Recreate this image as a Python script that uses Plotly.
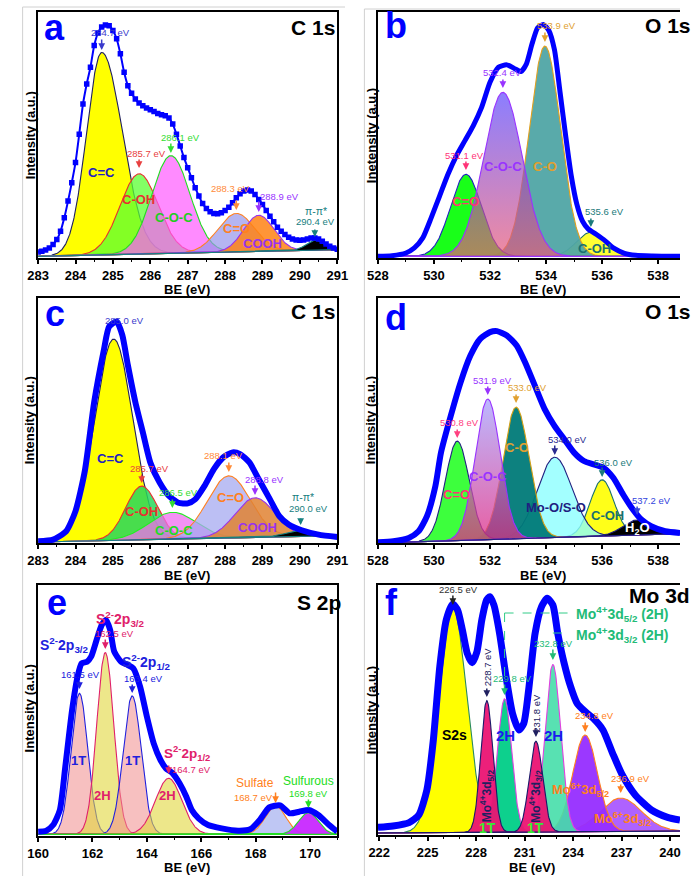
import numpy as np
import plotly.graph_objects as go

W, H = 691, 876
FONT = "Liberation Sans, Arial, sans-serif"
BLUE = "#0000ff"

# ======================= DATA =======================
# (a) C 1s  -- fitted components: centre (eV), height, left/right FWHM (eV)
a_names = ["C=C", "C-OH", "C-O-C", "C=O", "COOH", "pi-pi*"]
a_center = [284.7, 285.7, 286.55, 288.3, 288.9, 290.4]
a_height = [605, 240, 292, 115, 108, 30]
a_fwhm_l = [0.95, 1.2, 1.2, 1.15, 0.95, 0.55]
a_fwhm_r = [1.3, 1.2, 1.2, 1.15, 0.95, 0.55]
a_bg = [5, 25]
a_env_x = [283.0, 283.1, 283.2, 283.3, 283.4, 283.5, 283.6, 283.7, 283.8, 283.9,
           284.0, 284.1, 284.2, 284.3, 284.4, 284.5, 284.6, 284.7, 284.8, 284.9,
           285.0, 285.1, 285.2, 285.3, 285.4, 285.5, 285.6, 285.7, 285.8, 285.9,
           286.0, 286.1, 286.2, 286.3, 286.4, 286.5, 286.6, 286.7, 286.8, 286.9,
           287.0, 287.1, 287.2, 287.3, 287.4, 287.5, 287.6, 287.7, 287.8, 287.9,
           288.0, 288.1, 288.2, 288.3, 288.4, 288.5, 288.6, 288.7, 288.8, 288.9,
           289.0, 289.1, 289.2, 289.3, 289.4, 289.5, 289.6, 289.7, 289.8, 289.9,
           290.0, 290.1, 290.2, 290.3, 290.4, 290.5, 290.6, 290.7, 290.8, 290.9, 291.0]
a_env_y = [18, 20, 24, 30, 40, 55, 80, 120, 170, 225,
           285, 370, 460, 520, 570, 635, 672, 690, 696, 694,
           680, 655, 610, 555, 515, 492, 475, 463, 455, 448,
           443, 438, 432, 428, 425, 418, 400, 370, 335, 300,
           270, 240, 210, 185, 163, 148, 138, 133, 132, 135,
           142, 152, 165, 180, 192, 200, 203, 200, 190, 175,
           160, 142, 125, 108, 92, 80, 70, 62, 57, 54,
           53, 54, 57, 60, 60, 57, 50, 42, 35, 30, 26]

# (b) O 1s
b_names = ["C=O", "C-O-C", "C-O", "C-OH"]
b_center = [531.14, 532.46, 533.96, 535.6]
b_height = [245, 490, 628, 72]
b_fwhm = [1.3, 1.62, 1.32, 1.2]
b_bg = [5, 5]
b_env_x = [528.0, 528.5, 529.0, 529.3, 529.6, 529.9, 530.2, 530.5, 530.8, 531.1,
           531.4, 531.7, 532.0, 532.3, 532.6, 532.9, 533.1, 533.3, 533.5, 533.7,
           533.9, 534.1, 534.3, 534.5, 534.7, 534.9, 535.1, 535.3, 535.5, 535.8,
           536.1, 536.4, 536.8, 537.2, 537.8, 538.78]
b_env_y = [5, 7, 15, 30, 60, 120, 185, 250, 305, 350,
           395, 450, 525, 570, 577, 565, 557, 580, 640, 688,
           698, 680, 622, 495, 365, 245, 160, 110, 87, 70,
           52, 30, 14, 8, 6, 5]

# (c) C 1s
c_names = ["C=C", "C-OH", "C-O-C", "C=O", "COOH", "pi-pi*"]
c_center = [285.02, 285.77, 286.59, 288.1, 288.8, 290.02]
c_height = [600, 160, 80, 185, 118, 18]
c_fwhm = [1.2, 1.0, 1.5, 1.35, 1.25, 0.9]
c_bg = [3, 22]
c_env_x = [283.0, 283.4, 283.75, 284.0, 284.25, 284.5, 284.75, 284.9, 285.1, 285.25,
           285.4, 285.6, 285.8, 286.0, 286.25, 286.5, 286.75, 287.0, 287.2, 287.45,
           287.7, 287.95, 288.2, 288.4, 288.65, 288.9, 289.2, 289.45, 289.7, 290.05,
           290.5, 291.0]
c_env_y = [5, 10, 35, 95, 215, 420, 570, 645, 660, 620,
           530, 420, 330, 240, 180, 140, 120, 118, 130, 170,
           220, 255, 270, 265, 240, 190, 130, 80, 55, 38,
           25, 18]

# (d) O 1s
d_names = ["C=O", "C-O-C", "C-O", "Mo-O/S-O", "C-OH", "H2O"]
d_center = [530.83, 531.92, 532.93, 534.31, 536.0, 537.25]
d_height = [297, 420, 393, 240, 168, 45]
d_fwhm = [1.0, 1.05, 1.1, 1.45, 1.0, 1.2]
d_bg = [0, 28]
d_env_x = [528.0, 528.55, 529.1, 529.45, 529.75, 530.05, 530.25, 530.6, 530.95, 531.3,
           531.65, 532.0, 532.25, 532.6, 532.95, 533.25, 533.6, 533.95, 534.3, 534.65,
           535.0, 535.35, 535.7, 536.05, 536.4, 536.75, 537.1, 537.4, 537.75, 538.25, 538.78]
d_env_y = [2, 5, 15, 35, 80, 170, 270, 380, 480, 560,
           610, 630, 633, 620, 590, 540, 470, 400, 350, 310,
           270, 245, 235, 225, 195, 145, 100, 70, 50, 35, 30]

# (e) S 2p
e_names = ["1T 2p3/2", "2H 2p3/2", "1T 2p1/2", "2H 2p1/2", "Sulfate", "Sulfurous"]
e_center = [161.52, 162.47, 163.46, 164.8, 168.73, 169.94]
e_height = [423, 545, 415, 168, 85, 65]
e_fwhm = [0.72, 0.74, 0.78, 1.14, 0.9, 0.85]
e_bg = [5, 5]
e_env_x = [160.0, 160.3, 160.55, 160.8, 161.0, 161.25, 161.45, 161.6, 161.8, 161.95,
           162.15, 162.35, 162.5, 162.65, 162.8, 163.05, 163.3, 163.5, 163.75, 164.0,
           164.25, 164.5, 164.7, 164.95, 165.2, 165.45, 165.65, 165.9, 166.25, 166.75,
           167.35, 167.8, 168.15, 168.5, 168.9, 169.25, 169.6, 169.95, 170.3, 170.7, 171.0]
e_env_y = [13, 16, 33, 78, 208, 378, 478, 518, 523, 538,
           588, 635, 648, 618, 553, 523, 513, 503, 448, 358,
           278, 228, 203, 188, 158, 118, 78, 53, 33, 23,
           16, 20, 48, 86, 92, 68, 73, 78, 63, 33, 13]

# (f) Mo 3d
f_names = ["S2s", "1T 3d5/2", "2H 3d5/2", "1T 3d3/2", "2H 3d3/2", "Mo6+ 3d5/2", "Mo6+ 3d3/2"]
f_center = [226.56, 228.66, 229.76, 231.7, 232.75, 234.75, 236.95]
f_height = [672, 395, 400, 272, 502, 290, 100]
f_fwhm = [2.05, 0.88, 1.04, 0.98, 1.14, 1.8, 3.0]
f_bg = [6, 12]
f_env_x = [221.92, 222.85, 223.85, 224.45, 224.95, 225.35, 225.75, 226.15, 226.55, 226.85,
           227.15, 227.45, 227.75, 228.05, 228.35, 228.65, 228.85, 229.1, 229.45, 229.85,
           230.25, 230.65, 230.95, 231.25, 231.65, 232.05, 232.4, 232.75, 233.05, 233.45,
           233.85, 234.25, 234.75, 235.25, 235.85, 236.45, 237.05, 237.85, 238.85, 239.85, 240.62]
f_env_y = [23, 27, 37, 60, 135, 285, 505, 645, 693, 675,
           615, 545, 517, 550, 645, 705, 715, 690, 605, 475,
           365, 315, 335, 435, 605, 685, 710, 690, 605, 515,
           445, 395, 370, 350, 315, 245, 180, 120, 75, 53, 45]

# ======================= STYLE / LAYOUT =======================
def px_x(p):
    return p / W


def px_y(p):
    return 1 - p / H


def gauss(x, c, h, wl, wr):
    s = np.where(x < c, wl, wr) / 2.3548
    return h * np.exp(-0.5 * ((x - c) / s) ** 2)


fig = go.Figure()


def add_components(ax, xr, centers, heights, fl, fr, bg, fills, lines, order):
    xs = np.linspace(xr[0], xr[1], 800)
    base = np.interp(xs, xr, bg)
    for i in order:
        g = gauss(xs, centers[i], heights[i], fl[i], fr[i])
        xx = np.concatenate([xs, xs[::-1]])
        yy = np.concatenate([base + g, base[::-1]])
        kw = dict(x=xx, y=yy, mode="lines", fill="toself",
                  line=dict(color=lines[i], width=1.1),
                  xaxis="x" + ax, yaxis="y" + ax, hoverinfo="skip", showlegend=False)
        if isinstance(fills[i], list):
            kw["fillgradient"] = dict(type="vertical", colorscale=fills[i])
        else:
            kw["fillcolor"] = fills[i]
        fig.add_trace(go.Scatter(**kw))


def add_envelope(ax, x, y, width, markers=False):
    fig.add_trace(go.Scatter(
        x=x, y=y, mode="lines+markers" if markers else "lines",
        line=dict(color=BLUE, width=width, shape="spline", smoothing=0.6),
        marker=dict(symbol="square", size=5.5, color=BLUE),
        xaxis="x" + ax, yaxis="y" + ax, hoverinfo="skip", showlegend=False))


# ---- panel a
add_components("", [283, 291], a_center, a_height, a_fwhm_l, a_fwhm_r, a_bg,
               ["rgba(255,255,0,1)", "rgba(90,255,50,0.75)", "rgba(255,90,255,0.7)",
                "rgba(150,150,235,0.7)", "rgba(255,130,20,0.85)", "rgba(0,0,0,1)"],
               ["#202060", "#e83030", "#22dd22", "#ff8020", "#9933ee", "#178080"],
               [0, 1, 2, 3, 4, 5])
add_envelope("", a_env_x, a_env_y, 2, markers=True)

# ---- panel b
b_grad = [[0, "rgba(233,88,119,0.7)"], [1, "rgba(90,70,255,0.7)"]]
add_components("2", [528, 538.78], b_center, b_height, b_fwhm, b_fwhm, b_bg,
               ["rgba(0,255,0,0.9)", b_grad, "rgba(80,165,165,0.95)", "rgba(255,255,40,0.95)"],
               ["#2020c0", "#9933ff", "#e0a020", "#1a6a6a"],
               [3, 2, 0, 1])
add_envelope("2", b_env_x, b_env_y, 5)

# ---- panel c
add_components("3", [283, 291], c_center, c_height, c_fwhm, c_fwhm, c_bg,
               ["rgba(255,255,0,1)", "rgba(40,215,90,0.85)", "rgba(240,110,240,0.75)",
                "rgba(165,170,240,0.75)", "rgba(225,130,50,0.85)", "rgba(0,0,0,1)"],
               ["#202060", "#e83030", "#22ee22", "#ff8020", "#9933ee", "#178080"],
               [0, 1, 2, 3, 4, 5])
add_envelope("3", c_env_x, c_env_y, 6)

# ---- panel d
d_grad = [[0, "rgba(225,40,130,0.75)"], [1, "rgba(165,160,255,0.75)"]]
add_components("4", [528, 538.78], d_center, d_height, d_fwhm, d_fwhm, d_bg,
               ["rgba(40,255,40,0.9)", d_grad, "rgba(0,122,120,0.95)",
                "rgba(140,255,255,0.8)", "rgba(255,255,0,0.9)", "rgba(0,0,0,1)"],
               ["#202080", "#9933ff", "#d4a017", "#202080", "#1a7070", "#202080"],
               [4, 3, 2, 0, 1, 5])
add_envelope("4", d_env_x, d_env_y, 6)

# ---- panel e
add_components("5", [160, 171], e_center, e_height, e_fwhm, e_fwhm, e_bg,
               ["rgba(240,140,140,0.55)", "rgba(225,215,60,0.6)", "rgba(240,140,140,0.55)",
                "rgba(225,215,60,0.6)", "rgba(170,180,240,0.75)", "rgba(200,40,255,0.95)"],
               ["#2020dd", "#e0206a", "#2020dd", "#e0206a", "#ff8020", "#22dd22"],
               [0, 1, 2, 3, 4, 5])
add_envelope("5", e_env_x, e_env_y, 6)

# ---- panel f
add_components("6", [221.92, 240.62], f_center, f_height, f_fwhm, f_fwhm, f_bg,
               ["rgba(255,255,0,1)", "rgba(235,20,115,0.95)", "rgba(0,205,135,0.95)",
                "rgba(235,20,115,0.95)", "rgba(70,222,170,0.9)", "rgba(150,45,255,0.95)",
                "rgba(160,70,255,0.85)"],
               ["#2a8a60", "#1a1a6a", "#e040e0", "#1a1a6a", "#e040e0", "#ff8020", "#ff8020"],
               [0, 6, 5, 4, 2, 1, 3])
add_envelope("6", f_env_x, f_env_y, 7)

# ---- axes
LEFT = [28 / W, 337 / W]
RIGHT = [379 / W, 1.0]
ROWS = [[px_y(258), px_y(12)], [px_y(543), px_y(298)], [px_y(836), px_y(585)]]

panels = [
    ("", LEFT, ROWS[0], [283, 291], [0, 735], 1, 0.5, 283, True),
    ("2", RIGHT, ROWS[0], [528, 538.78], [0, 735], 2, 1, 528, False),
    ("3", LEFT, ROWS[1], [283, 291], [0, 730], 1, 0.5, 283, True),
    ("4", RIGHT, ROWS[1], [528, 538.78], [0, 732], 2, 1, 528, False),
    ("5", LEFT, ROWS[2], [160, 171], [0, 753], 2, 1, 160, True),
    ("6", RIGHT, [px_y(835), px_y(585)], [221.92, 240.62], [0, 750], 3, 1, 222, False),
]
for ax, xd, yd, xr, yr, dt, mdt, t0, mir in panels:
    fig.layout["xaxis" + ax] = dict(
        domain=xd, range=xr, anchor="y" + ax, showline=True, linecolor="black",
        linewidth=1.8, mirror=True, ticks="outside", ticklen=4, tickwidth=1.5,
        tickcolor="black", dtick=dt, tick0=t0,
        minor=dict(dtick=mdt, tick0=t0, ticks="outside", ticklen=2.5, tickwidth=1.2,
                   tickcolor="black"),
        tickfont=dict(family=FONT, size=13, color="black", weight="bold"),
        showgrid=False, zeroline=False, fixedrange=True)
    fig.layout["yaxis" + ax] = dict(
        domain=yd, range=yr, anchor="x" + ax, showline=True, linecolor="black",
        linewidth=1.8, mirror=mir, ticks="", showticklabels=False,
        showgrid=False, zeroline=False, fixedrange=True)

# ---- annotations
ann = []


def lab(text, px, py, color, size=9.5, bold=False, angle=0, xanchor="center"):
    ann.append(dict(text=text, x=px_x(px), y=px_y(py), xref="paper", yref="paper",
                    showarrow=False, xanchor=xanchor, yanchor="middle", textangle=angle,
                    font=dict(family=FONT, size=size, color=color,
                              weight="bold" if bold else "normal")))


def arr(xd, ax, tip, length, color):
    ann.append(dict(text="", x=xd, xref="x" + ax, y=px_y(tip), yref="paper",
                    showarrow=True, ax=0, ay=-length, arrowhead=2, arrowsize=0.9,
                    arrowwidth=1.5, arrowcolor=color))


def common(letter, lx, ly, title, tx, ty, anchor, ytitle, yx, yy, bx, by):
    lab(letter, lx, ly, BLUE, 36, True)
    lab(title, tx, ty, "black", 21, True, xanchor=anchor)
    lab(ytitle, yx, yy, "black", 13, True, angle=-90)
    lab("BE (eV)", bx, by, "black", 13, True)


# panel a
common("a", 45, 27, "C 1s", 312, 27, "center", "Intensity (a.u.)", 20, 135, 182, 289)
lab("284.7 eV", 103, 32, "#3a3acc")
lab("285.7 eV", 140, 154, "#e84040")
lab("286.1 eV", 175, 137, "#33dd33")
lab("288.3 eV", 227, 188, "#ff8c3a")
lab("288.9 eV", 277, 197, "#9933ff")
lab("π-π*", 315, 211, "#178080", 10.5)
lab("290.4 eV", 315, 221, "#178080")
lab("C=C", 93, 172, "#2020c0", 13, True)
lab("C-OH", 132, 199, "#e83030", 13, True)
lab("C-O-C", 168, 217, "#22cc22", 13, True)
lab("C=O", 233, 229, "#ff8020", 13, True)
lab("COOH", 260, 243, "#9933ee", 13, True)
arr(a_center[0], "", 50, 12, "#3a3acc")
arr(a_center[1], "", 168, 10, "#e84040")
arr(a_center[2], "", 153, 11, "#33dd33")
arr(a_center[3], "", 210, 11, "#ff8c3a")
arr(a_center[4], "", 212, 12, "#9933ff")
arr(a_center[5], "", 237, 9, "#178080")

# panel b
common("b", 398, 25, "O 1s", 653, 26, "left", "Inetensity (a.u.)", 372, 136, 550, 289)
lab("531.1 eV", 468, 155, "#ff3377")
lab("532.4 eV", 508, 72, "#9933ff")
lab("533.9 eV", 563, 26, "#e0a030")
lab("535.6 eV", 613, 211, "#1a7a7a")
lab("C=O", 469, 202, "#ff3377", 13, True)
lab("C-O-C", 508, 166, "#9933ff", 13, True)
lab("C-O", 552, 166, "#e0a030", 13, True)
lab("C-OH", 603, 248, "#1a7070", 13, True)
arr(b_center[0], "2", 170, 10, "#ff3377")
arr(b_center[1], "2", 88, 10, "#9933ff")
arr(b_center[2], "2", 42, 11, "#e0a030")
arr(b_center[3], "2", 227, 10, "#1a7a7a")

# panel c
common("c", 45, 313, "C 1s", 312, 311, "center", "Intensity (a.u.)", 20, 420, 182, 575)
lab("285.0 eV", 117, 320, "#3a3acc")
lab("285.7 eV", 143, 468, "#e84040")
lab("286.5 eV", 173, 493, "#33dd33")
lab("288.1 eV", 220, 455, "#ff8c3a")
lab("288.8 eV", 262, 479, "#9933ff")
lab("π-π*", 302, 497, "#178080", 10.5)
lab("290.0 eV", 307, 509, "#178080")
lab("C=C", 103, 458, "#2020c0", 13, True)
lab("C-OH", 135, 511, "#e83030", 13, True)
lab("C-O-C", 168, 530, "#22dd22", 13, True)
lab("C=O", 227, 497, "#ff8020", 13, True)
lab("COOH", 255, 527, "#9933ee", 13, True)
arr(c_center[1], "3", 483, 10, "#e84040")
arr(c_center[2], "3", 508, 10, "#33dd33")
arr(c_center[3], "3", 472, 11, "#ff8c3a")
arr(c_center[4], "3", 495, 11, "#9933ff")
arr(c_center[5], "3", 525, 8, "#178080")

# panel d
common("d", 398, 317, "O 1s", 653, 311, "left", "Intensity (a.u.)", 372, 420, 550, 575)
lab("530.8 eV", 463, 422, "#ff4080")
lab("531.9 eV", 497, 380, "#9933ff")
lab("533.0 eV", 533, 388, "#e0a030")
lab("534.0 eV", 575, 439, "#2a2a90")
lab("536.0 eV", 622, 462, "#1a7a7a")
lab("537.2 eV", 662, 501, "#3344dd")
lab("C=O", 460, 494, "#ff3377", 13, True)
lab("C-O-C", 493, 477, "#9933ff", 13, True)
lab("C-O", 523, 447, "#e0a030", 13, True)
lab("Mo-O/S-O", 563, 507, "#202080", 13, True)
lab("C-OH", 616, 515, "#1a7070", 13, True)
lab("H<sub>2</sub>O", 647, 528, "white", 13, True)
arr(d_center[0], "4", 438, 10, "#ff4080")
arr(d_center[1], "4", 395, 10, "#9933ff")
arr(d_center[2], "4", 403, 10, "#e0a030")
arr(d_center[3], "4", 455, 11, "#2a2a90")
arr(d_center[4], "4", 477, 11, "#1a7a7a")
arr(d_center[5], "4", 515, 10, "#3344dd")

# panel e
common("e", 48, 602, "S 2p", 318, 602, "center", "Intensity (a.u.)", 19, 708, 182, 867)
lab("S<sup>2-</sup>2p<sub>3/2</sub>", 55, 645, "#2020dd", 14, True)
lab("161.5 eV", 72, 674, "#2020dd")
lab("S<sup>2-</sup>2p<sub>3/2</sub>", 113, 619, "#e0206a", 14, True)
lab("162.5 eV", 107, 633, "#e0206a")
lab("S<sup>2-</sup>2p<sub>1/2</sub>", 140, 662, "#2020dd", 14, True)
lab("163.4 eV", 137, 678, "#2020dd")
lab("S<sup>2-</sup>2p<sub>1/2</sub>", 182, 753, "#e0206a", 13.5, True)
lab("164.7 eV", 186, 769, "#e0206a")
lab("Sulfate", 252, 783, "#ff8020", 12)
lab("168.7 eV", 250, 797, "#ff8020")
lab("Sulfurous", 307, 781, "#22dd22", 12)
lab("169.8 eV", 307, 793, "#22dd22")
lab("1T", 70, 760, "#2020dd", 13, True)
lab("1T", 125, 760, "#2020dd", 13, True)
lab("2H", 95, 795, "#e0206a", 13, True)
lab("2H", 162, 795, "#e0206a", 13, True)
arr(e_center[0], "5", 689, 9, "#2020dd")
arr(e_center[1], "5", 649, 11, "#e0206a")
arr(e_center[2], "5", 693, 10, "#2020dd")
arr(e_center[3], "5", 774, 10, "#e0206a")
arr(e_center[4], "5", 803, 12, "#ff8020")
arr(e_center[5], "5", 808, 10, "#22dd22")

# panel f
common("f", 393, 602, "Mo 3d", 636, 595, "left", "Intensity (a.u.)", 372, 710, 538, 867)
lab("226.5 eV", 462, 589, "#333333")
lab("228.7 eV", 492, 667, "#202060", angle=-90)
lab("229.8 eV", 518, 678, "#22bb77")
lab("231.8 eV", 542, 713, "#202060", angle=-90)
lab("232.8 eV", 560, 643, "#22bb77")
lab("234.8 eV", 603, 715, "#ff8020")
lab("236.9 eV", 640, 778, "#ff8020")
lab("Mo<sup>4+</sup>3d<sub>5/2</sub> (2H)", 582, 614, "#22bb77", 14, True, xanchor="left")
lab("Mo<sup>4+</sup>3d<sub>3/2</sub> (2H)", 582, 635, "#22bb77", 14, True, xanchor="left")
lab("S2s", 458, 735, "black", 14, True)
lab("2H", 511, 735, "#1a1aee", 15, True)
lab("2H", 560, 735, "#1a1aee", 15, True)
lab("Mo<sup>4+</sup>3d<sub>5/2</sub>", 492, 796, "#202060", 12, True, angle=-90)
lab("1T", 492, 828, "#33ee33", 14, True)
lab("Mo<sup>4+</sup>3d<sub>3/2</sub>", 542, 796, "#202060", 12, True, angle=-90)
lab("1T", 542, 828, "#33ee33", 14, True)
lab("Mo<sup>6+</sup>3d<sub>5/2</sub>", 588, 790, "#ff8020", 13, True)
lab("Mo<sup>6+</sup>3d<sub>3/2</sub>", 632, 819, "#ff8020", 13, True)
arr(f_center[0], "6", 605, 11, "#222222")
arr(f_center[1], "6", 697, 10, "#202060")
arr(f_center[2], "6", 695, 12, "#22bb77")
arr(f_center[3], "6", 737, 10, "#202060")
arr(f_center[4], "6", 660, 12, "#22bb77")
arr(f_center[5], "6", 732, 11, "#ff8020")
arr(f_center[6], "6", 793, 10, "#ff8020")

shapes = [
    dict(type="line", xref="x6", yref="paper", x0=f_center[2], x1=233.85,
         y0=px_y(613), y1=px_y(613), line=dict(color="#33cc88", width=1, dash="dash")),
    dict(type="line", xref="x6", yref="paper", x0=f_center[2], x1=f_center[2],
         y0=px_y(613), y1=px_y(680), line=dict(color="#33cc88", width=1, dash="dash")),
    dict(type="line", xref="x6", yref="paper", x0=f_center[4], x1=233.85,
         y0=px_y(633), y1=px_y(633), line=dict(color="#33cc88", width=1, dash="dash")),
    # faint separators of the original composite image
    dict(type="line", xref="paper", yref="paper", x0=px_x(12), x1=px_x(12),
         y0=px_y(7), y1=0, line=dict(color="#d0d0d0", width=1)),
    dict(type="line", xref="paper", yref="paper", x0=px_x(12), x1=px_x(345),
         y0=px_y(7), y1=px_y(7), line=dict(color="#d0d0d0", width=1)),
    dict(type="line", xref="paper", yref="paper", x0=px_x(365), x1=px_x(365),
         y0=px_y(9), y1=0, line=dict(color="#d0d0d0", width=1)),
    dict(type="line", xref="paper", yref="paper", x0=px_x(365), x1=1,
         y0=px_y(9), y1=px_y(9), line=dict(color="#d0d0d0", width=1)),
]

fig.update_layout(
    width=W, height=H, margin=dict(l=0, r=0, t=0, b=0),
    paper_bgcolor="white", plot_bgcolor="white",
    annotations=ann, shapes=shapes, showlegend=False,
    font=dict(family=FONT, color="black"),
)

fig.write_html("out.html", config={"displayModeBar": False},
               post_script="document.body.style.margin='0px';document.body.style.overflow='hidden';")
